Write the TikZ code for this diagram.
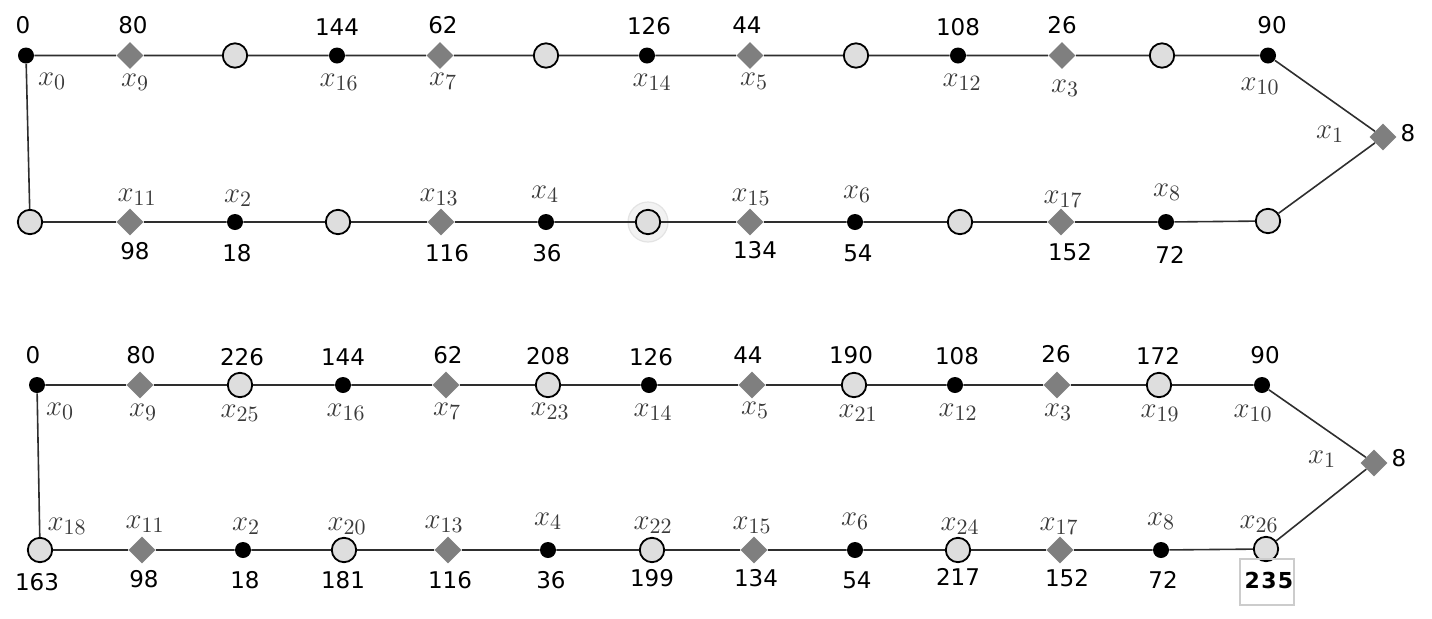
\documentclass[tikz,border=0pt]{standalone}
\usepackage{fontspec}
\usetikzlibrary{shapes.geometric}
\newfontfamily\numfont{DejaVu Sans}
\newfontfamily\numboldfont[LetterSpace=6]{DejaVu Sans Bold}
\definecolor{diagray}{HTML}{7F7F7F}
\definecolor{circfill}{HTML}{DEDEDE}
\definecolor{edgecol}{HTML}{2E2E2E}
\definecolor{labcol}{HTML}{3A3A3A}
\begin{document}
\begin{tikzpicture}[x=0.5pt,y=-0.5pt,
  dotn/.style={circle,fill=black,inner sep=0pt,minimum size=8pt},
  circn/.style={circle,draw=black,line width=0.9pt,fill=circfill,inner sep=0pt,minimum size=12.2pt},
  dian/.style={diamond,fill=diagray,inner sep=0pt,minimum width=13.5pt,minimum height=13.5pt},
  numlab/.style={inner sep=0pt,font=\numfont\fontsize{11.5}{13}\selectfont},
  xlab/.style={inner sep=0pt,text=labcol,font=\fontsize{15}{18}\selectfont},
  edgeln/.style={draw=edgecol,line width=0.8pt}]
\useasboundingbox (0,0) rectangle (1432,618);
% ---------- top diagram ----------
\fill[gray!10] (648,222) circle[radius=10pt];
\draw[gray!22,line width=0.6pt] (648,222) circle[radius=10pt];
\node[dotn] (a0) at (26,55.5) {};
\node[dian] (a9) at (130,55.5) {};
\node[circn] (ac1) at (235,55.5) {};
\node[dotn] (a16) at (337,55.5) {};
\node[dian] (a7) at (440,55.5) {};
\node[circn] (ac2) at (546,55.5) {};
\node[dotn] (a14) at (647,55.5) {};
\node[dian] (a5) at (750,55.5) {};
\node[circn] (ac3) at (856,55.5) {};
\node[dotn] (a12) at (958,55.5) {};
\node[dian] (a3) at (1062,55.5) {};
\node[circn] (ac4) at (1162,55.5) {};
\node[dotn] (a10) at (1268,55.5) {};
\node[dian] (a1) at (1383,137) {};
\node[circn] (ac5) at (30,222) {};
\node[dian] (a11) at (130,222) {};
\node[dotn] (a2) at (235,222) {};
\node[circn] (ac6) at (338,222) {};
\node[dian] (a13) at (441,222) {};
\node[dotn] (a4) at (546,222) {};
\node[circn] (ac7) at (648,222) {};
\node[dian] (a15) at (750,222) {};
\node[dotn] (a6) at (855,222) {};
\node[circn] (ac8) at (960,222) {};
\node[dian] (a17) at (1061,222) {};
\node[dotn] (a8) at (1166,222) {};
\node[circn] (ac9) at (1268,221) {};
\path[edgeln] (a0)--(a9) (a9)--(ac1) (ac1)--(a16) (a16)--(a7) (a7)--(ac2) (ac2)--(a14)
  (a14)--(a5) (a5)--(ac3) (ac3)--(a12) (a12)--(a3) (a3)--(ac4) (ac4)--(a10) (a10)--(a1)
  (a1)--(ac9) (ac9)--(a8) (a8)--(a17) (a17)--(ac8) (ac8)--(a6) (a6)--(a15) (a15)--(ac7)
  (ac7)--(a4) (a4)--(a13) (a13)--(ac6) (ac6)--(a2) (a2)--(a11) (a11)--(ac5) (ac5)--(a0);
\node[numlab] (tn0) at (23,25) {0};
\node[numlab] (tn80) at (133,25) {80};
\node[numlab] (tn144) at (337,27) {144};
\node[numlab] (tn62) at (443,25) {62};
\node[numlab] (tn126) at (649,26) {126};
\node[numlab] (tn44) at (747,25) {44};
\node[numlab] (tn108) at (958,27) {108};
\node[numlab] (tn26) at (1062,25) {26};
\node[numlab] (tn90) at (1272,25) {90};
\node[numlab] (tn8) at (1408,133) {8};
\node[numlab] (tn98) at (135,251) {98};
\node[numlab] (tn18) at (237,253) {18};
\node[numlab] (tn116) at (447,253) {116};
\node[numlab] (tn36) at (547,253) {36};
\node[numlab] (tn134) at (755,250) {134};
\node[numlab] (tn54) at (858,253) {54};
\node[numlab] (tn152) at (1070,252) {152};
\node[numlab] (tn72) at (1170,255) {72};
\node[xlab] (tx0) at (52,81) {$x_{0}$};
\node[xlab] (tx9) at (135,82) {$x_{9}$};
\node[xlab] (tx16) at (339,82) {$x_{16}$};
\node[xlab] (tx7) at (443,81) {$x_{7}$};
\node[xlab] (tx14) at (652,82) {$x_{14}$};
\node[xlab] (tx5) at (754,81) {$x_{5}$};
\node[xlab] (tx12) at (962,82) {$x_{12}$};
\node[xlab] (tx3) at (1065,88) {$x_{3}$};
\node[xlab] (tx10) at (1260,86) {$x_{10}$};
\node[xlab] (tx1) at (1330,134) {$x_{1}$};
\node[xlab] (tx11) at (137,197) {$x_{11}$};
\node[xlab] (tx2) at (238,198) {$x_{2}$};
\node[xlab] (tx13) at (439,197) {$x_{13}$};
\node[xlab] (tx4) at (545,194) {$x_{4}$};
\node[xlab] (tx15) at (751,197) {$x_{15}$};
\node[xlab] (tx6) at (857,194) {$x_{6}$};
\node[xlab] (tx17) at (1063,199) {$x_{17}$};
\node[xlab] (tx8) at (1167,192) {$x_{8}$};
% ---------- bottom diagram ----------
\node[dotn] (b0) at (37,385) {};
\node[dian] (b9) at (140,385) {};
\node[circn] (b25) at (240,385) {};
\node[dotn] (b16) at (343,385) {};
\node[dian] (b7) at (446,385) {};
\node[circn] (b23) at (548,385) {};
\node[dotn] (b14) at (649,385) {};
\node[dian] (b5) at (752,385) {};
\node[circn] (b21) at (854,385) {};
\node[dotn] (b12) at (955,385) {};
\node[dian] (b3) at (1057,385) {};
\node[circn] (b19) at (1159,385) {};
\node[dotn] (b10) at (1262,385) {};
\node[dian] (b1) at (1374,463) {};
\node[circn] (b18) at (40,550) {};
\node[dian] (b11) at (142,550) {};
\node[dotn] (b2) at (243,550) {};
\node[circn] (b20) at (344,550) {};
\node[dian] (b13) at (448,550) {};
\node[dotn] (b4) at (548,550) {};
\node[circn] (b22) at (652,550) {};
\node[dian] (b15) at (754,550) {};
\node[dotn] (b6) at (855,550) {};
\node[circn] (b24) at (958,550) {};
\node[dian] (b17) at (1060,550) {};
\node[dotn] (b8) at (1161,550) {};
\node[circn] (b26) at (1266,549) {};
\path[edgeln] (b0)--(b9) (b9)--(b25) (b25)--(b16) (b16)--(b7) (b7)--(b23) (b23)--(b14)
  (b14)--(b5) (b5)--(b21) (b21)--(b12) (b12)--(b3) (b3)--(b19) (b19)--(b10) (b10)--(b1)
  (b1)--(b26) (b26)--(b8) (b8)--(b17) (b17)--(b24) (b24)--(b6) (b6)--(b15) (b15)--(b22)
  (b22)--(b4) (b4)--(b13) (b13)--(b20) (b20)--(b2) (b2)--(b11) (b11)--(b18) (b18)--(b0);
\node[numlab] (bn0) at (33,355) {0};
\node[numlab] (bn80) at (141,355) {80};
\node[numlab] (bn226) at (242,357) {226};
\node[numlab] (bn144) at (343,357) {144};
\node[numlab] (bn62) at (448,355) {62};
\node[numlab] (bn208) at (548,356) {208};
\node[numlab] (bn126) at (651,357) {126};
\node[numlab] (bn44) at (748,355) {44};
\node[numlab] (bn190) at (851,355) {190};
\node[numlab] (bn108) at (957,356) {108};
\node[numlab] (bn26) at (1056,354) {26};
\node[numlab] (bn172) at (1158,356) {172};
\node[numlab] (bn90) at (1265,355) {90};
\node[numlab] (bn8) at (1399,458) {8};
\node[numlab] (bn163) at (37,582) {163};
\node[numlab] (bn98) at (144,579) {98};
\node[numlab] (bn18) at (245,580) {18};
\node[numlab] (bn181) at (343,580) {181};
\node[numlab] (bn116) at (450,580) {116};
\node[numlab] (bn36) at (551,580) {36};
\node[numlab] (bn199) at (652,578) {199};
\node[numlab] (bn134) at (756,578) {134};
\node[numlab] (bn54) at (857,580) {54};
\node[numlab] (bn217) at (958,577) {217};
\node[numlab] (bn152) at (1067,578) {152};
\node[numlab] (bn72) at (1163,580) {72};
\node[draw=gray!40,line width=0.6pt,minimum width=27pt,minimum height=23pt,inner sep=0pt] (box235) at (1267,582) {};
\node[inner sep=0pt,font=\numboldfont\fontsize{11}{13}\selectfont] (bn235) at (1269,580) {235};
\node[xlab] (bx0) at (60,411) {$x_{0}$};
\node[xlab] (bx9) at (143,412) {$x_{9}$};
\node[xlab] (bx25) at (240,413) {$x_{25}$};
\node[xlab] (bx16) at (346,412) {$x_{16}$};
\node[xlab] (bx7) at (447,411) {$x_{7}$};
\node[xlab] (bx23) at (550,411) {$x_{23}$};
\node[xlab] (bx14) at (653,412) {$x_{14}$};
\node[xlab] (bx5) at (755,410) {$x_{5}$};
\node[xlab] (bx21) at (858,413) {$x_{21}$};
\node[xlab] (bx12) at (958,412) {$x_{12}$};
\node[xlab] (bx3) at (1058,412) {$x_{3}$};
\node[xlab] (bx19) at (1160,413) {$x_{19}$};
\node[xlab] (bx10) at (1253,413) {$x_{10}$};
\node[xlab] (bx1) at (1322,459) {$x_{1}$};
\node[xlab] (bx18) at (67,526) {$x_{18}$};
\node[xlab] (bx11) at (145,524) {$x_{11}$};
\node[xlab] (bx2) at (246,526) {$x_{2}$};
\node[xlab] (bx20) at (347,526) {$x_{20}$};
\node[xlab] (bx13) at (444,524) {$x_{13}$};
\node[xlab] (bx4) at (548,521) {$x_{4}$};
\node[xlab] (bx22) at (653,525) {$x_{22}$};
\node[xlab] (bx15) at (752,525) {$x_{15}$};
\node[xlab] (bx6) at (855,521) {$x_{6}$};
\node[xlab] (bx24) at (960,526) {$x_{24}$};
\node[xlab] (bx17) at (1059,526) {$x_{17}$};
\node[xlab] (bx8) at (1161,521) {$x_{8}$};
\node[xlab] (bx26) at (1259,524) {$x_{26}$};
\end{tikzpicture}
\end{document}
